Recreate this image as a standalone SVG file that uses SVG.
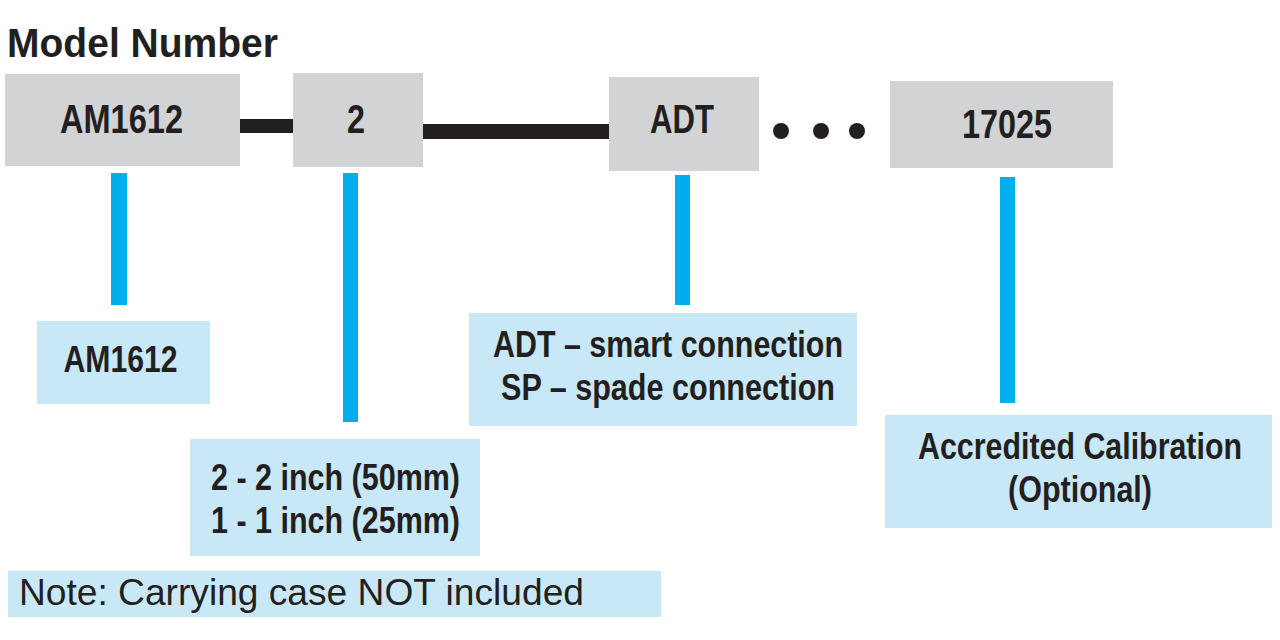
<svg xmlns="http://www.w3.org/2000/svg" width="1280" height="640" viewBox="0 0 1280 640">
<style>
.gray{fill:#d1d3d4}
.lb{fill:#c8e8f7}
.bar{fill:#231f20}
.vl{fill:#00aeef}
text{font-family:"Liberation Sans",Arial,sans-serif;fill:#231f20}
.b{font-weight:bold;text-anchor:middle}
.t40{font-size:40px}
.t36{font-size:37px}
</style>
<rect width="1280" height="640" fill="#ffffff"/>
<text x="7" y="57" font-size="40" font-weight="bold" textLength="271" lengthAdjust="spacingAndGlyphs">Model Number</text>

<g id="connectors">
<rect class="bar" x="240" y="119" width="54" height="14"/>
<rect class="bar" x="423" y="124" width="186" height="15"/>
<circle class="bar" cx="781" cy="131" r="8"/>
<circle class="bar" cx="821" cy="131" r="8"/>
<circle class="bar" cx="857" cy="131" r="8"/>
<rect class="vl" x="111" y="173" width="16" height="132"/>
<rect class="vl" x="343" y="173" width="15" height="249"/>
<rect class="vl" x="675" y="175" width="15" height="130"/>
<rect class="vl" x="1000" y="177" width="15" height="226"/>
</g>

<g id="box-am1612">
<rect class="gray" x="5" y="74" width="235" height="92"/>
<text class="b t40" x="121.5" y="133" textLength="123" lengthAdjust="spacingAndGlyphs">AM1612</text>
</g>
<g id="box-2">
<rect class="gray" x="293" y="73" width="130" height="94"/>
<text class="b t40" x="356" y="133" textLength="18" lengthAdjust="spacingAndGlyphs">2</text>
</g>
<g id="box-adt">
<rect class="gray" x="609" y="77" width="150" height="94"/>
<text class="b t40" x="682" y="133" textLength="64" lengthAdjust="spacingAndGlyphs">ADT</text>
</g>
<g id="box-17025">
<rect class="gray" x="890" y="81" width="223" height="87"/>
<text class="b t40" x="1007" y="138" textLength="90" lengthAdjust="spacingAndGlyphs">17025</text>
</g>

<g id="opt-am1612">
<rect class="lb" x="37" y="321" width="173" height="83"/>
<text class="b t36" x="120.5" y="372" textLength="114" lengthAdjust="spacingAndGlyphs">AM1612</text>
</g>
<g id="opt-size">
<rect class="lb" x="190" y="439" width="290" height="117"/>
<text class="b t36" x="335.5" y="490" textLength="249" lengthAdjust="spacingAndGlyphs">2 - 2 inch (50mm)</text>
<text class="b t36" x="335.5" y="533" textLength="249" lengthAdjust="spacingAndGlyphs">1 - 1 inch (25mm)</text>
</g>
<g id="opt-connection">
<rect class="lb" x="469" y="313" width="388" height="113"/>
<text class="b t36" x="668" y="357" textLength="350" lengthAdjust="spacingAndGlyphs">ADT – smart connection</text>
<text class="b t36" x="668" y="400" textLength="334" lengthAdjust="spacingAndGlyphs">SP – spade connection</text>
</g>
<g id="opt-calibration">
<rect class="lb" x="885" y="415" width="387" height="113"/>
<text class="b t36" x="1080" y="459" textLength="324" lengthAdjust="spacingAndGlyphs">Accredited Calibration</text>
<text class="b t36" x="1080" y="502" textLength="144" lengthAdjust="spacingAndGlyphs">(Optional)</text>
</g>
<g id="note">
<rect class="lb" x="8" y="571" width="653" height="46"/>
<text x="19" y="605" font-size="37" textLength="565" lengthAdjust="spacingAndGlyphs">Note: Carrying case NOT included</text>
</g>
</svg>
